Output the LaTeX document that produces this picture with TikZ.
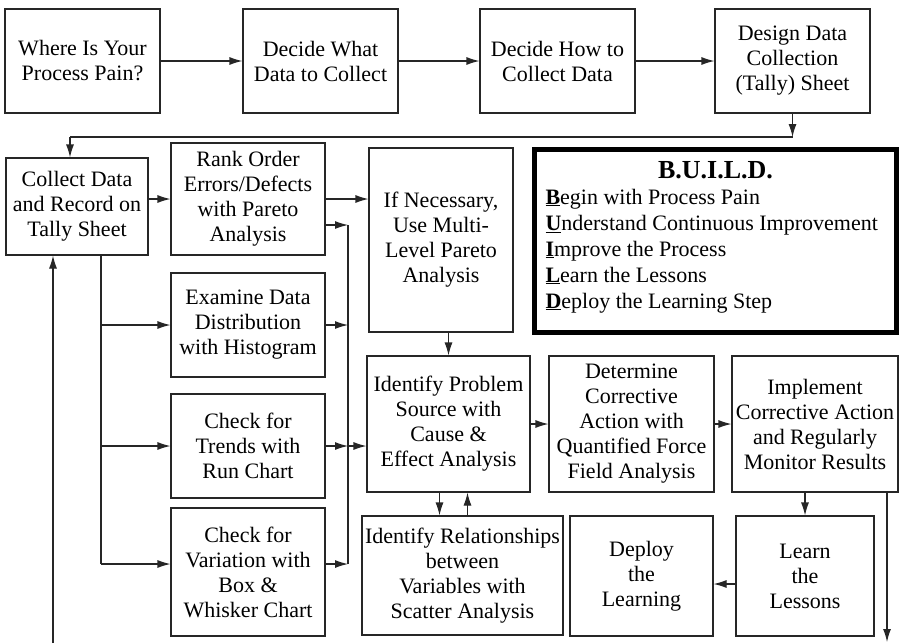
\documentclass[tikz,border=0pt]{standalone}
\usepackage{fontspec}
\setmainfont{Liberation Serif}
\usetikzlibrary{arrows.meta}
\tikzset{
  box/.style={draw=black!85, line width=1.1pt, inner sep=0pt, align=center,
    font=\fontsize{22}{25}\selectfont},
  arr/.style={draw=black!85, line width=1.1pt, -{Latex[length=13pt,width=8pt]}},
  ln/.style={draw=black!85, line width=1.1pt},
  buildbox/.style={draw=black, line width=5pt, inner sep=0pt},
}
\newcommand{\bx}[6]{\node[box,minimum width={(#3-#2)*1pt},minimum height={(#5-#4)*1pt}] (#1) at ({(#2+#3)/2},{(#4+#5)/2}) {#6};}
\newcommand{\ulb}[1]{\underline{\textbf{#1}}}
\begin{document}
\begin{tikzpicture}[x=1pt,y=-1pt]
\useasboundingbox (0,0) rectangle (899,643);
% top row
\bx{pain}{5}{160}{9}{113}{Where Is Your\\Process Pain?}
\bx{what}{243}{398}{9}{113}{Decide What\\Data to Collect}
\bx{how}{480}{635}{9}{113}{Decide How to\\Collect Data}
\bx{design}{715}{870}{9}{113}{Design Data\\Collection\\(Tally) Sheet}
% left column
\bx{collect}{6}{148}{158}{255}{Collect Data\\and Record on\\Tally Sheet}
\bx{rank}{171}{325}{143}{255}{Rank Order\\Errors/Defects\\with Pareto\\Analysis}
\bx{hist}{171}{325}{273}{377}{Examine Data\\Distribution\\with Histogram}
\bx{run}{171}{325}{394}{498}{Check for\\Trends with\\Run Chart}
\bx{bw}{171}{325}{508}{636}{Check for\\Variation with\\Box \&\\Whisker Chart}
% middle
\bx{ifnec}{369}{513}{148}{332}{If Necessary,\\Use Multi-\\Level Pareto\\Analysis}
\bx{ident}{367}{530}{356}{492}{Identify Problem\\Source with\\Cause \&\\Effect Analysis}
\bx{determ}{549}{714}{356}{492}{Determine\\Corrective\\Action with\\Quantified Force\\Field Analysis}
\bx{impl}{732}{898}{356}{492}{Implement\\Corrective Action\\and Regularly\\Monitor Results}
\bx{rel}{362}{563}{516}{635}{Identify Relationships\\between\\Variables with\\Scatter Analysis}
\bx{deploy}{570}{713}{516}{636}{Deploy\\the\\Learning}
\bx{learn}{736}{874}{516}{636}{Learn\\the\\Lessons}
% BUILD box
\node[buildbox, minimum width=362pt, minimum height=183pt] (build) at (715.5,241) {};
\node[inner sep=0pt] (buildtxt) at ([yshift=4pt]build.center) {\parbox{340pt}{\fontsize{22}{26}\selectfont
  \centering{\fontsize{26}{26}\selectfont\textbf{B.U.I.L.D.}}\par
  \raggedright
  \ulb{B}egin with Process Pain\par
  \ulb{U}nderstand Continuous Improvement\par
  \ulb{I}mprove the Process\par
  \ulb{L}earn the Lessons\par
  \ulb{D}eploy the Learning Step\par}};
% coordinates
\coordinate (ret) at (70,137);
\coordinate (b1) at (348,225);
\coordinate (b4) at (348,564);
\coordinate (lb) at (101,564);
\coordinate (lret) at (53,643);
\coordinate (rret) at (887,642);
% top row arrows
\draw[arr] (pain) -- (what);
\draw[arr] (what) -- (how);
\draw[arr] (how) -- (design);
\draw[arr] (design.south) -- (design.south |- ret);
\draw[ln] (design.south |- ret) -- (ret);
\draw[arr] (ret) -- (ret |- collect.north);
% collect branches
\draw[arr] (collect.east |- rank.west) -- (rank.west);
\draw[ln] (lb |- collect.south) -- (lb);
\draw[arr] (lb |- hist.west) -- (hist.west);
\draw[arr] (lb |- run.west) -- (run.west);
\draw[arr] (lb) -- (lb -| bw.west);
\draw[arr] (lret) -- (lret |- collect.south);
% bus
\draw[arr] (rank.east) -- (rank.east -| ifnec.west);
\draw[arr] (rank.east |- b1) -- (b1);
\draw[ln] (b1) -- (b4);
\draw[arr] (hist.east) -- (hist.east -| b1);
\draw[arr] (run.east) -- (run.east -| b1);
\draw[arr] (run.east -| b1) -- (run.east -| ident.west);
\draw[arr] (bw.east |- b4) -- (b4);
% middle flow
\draw[arr] (ifnec.south -| ident.north) -- (ident.north);
\draw[arr] ([xshift=-9pt]ident.south) -- ([xshift=-9pt]ident.south |- rel.north);
\draw[arr] ([xshift=19pt]ident.south |- rel.north) -- ([xshift=19pt]ident.south);
\draw[arr] (ident.east |- determ.west) -- (determ.west);
\draw[arr] (determ.east) -- (determ.east -| impl.west);
\draw[arr] (impl.south -| learn.north) -- (learn.north);
\draw[arr] ([yshift=-8pt]learn.west) -- ([yshift=-8pt]learn.west -| deploy.east);
\draw[arr] (rret |- impl.south) -- (rret);
\end{tikzpicture}
\end{document}
